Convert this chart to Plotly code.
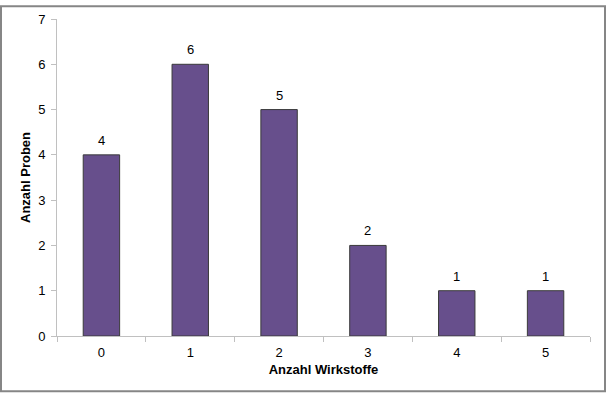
import plotly.graph_objects as go

categories = ["0", "1", "2", "3", "4", "5"]
values = [4, 6, 5, 2, 1, 1]
y_ticks = [0, 1, 2, 3, 4, 5, 6, 7]

W, H = 606, 393
L, R, T, B = 57, 16, 14, 57
pw, ph = W - L - R, H - T - B
FONT = "Liberation Sans, Arial"

fig = go.Figure(go.Bar(
    x=categories, y=values,
    marker=dict(color="#674F8C", line=dict(color="#3A3A3A", width=1)),
    width=0.41, cliponaxis=False, hoverinfo="skip",
))

annotations = [
    dict(x=c, y=v, xref="x", yref="y", text=str(v), showarrow=False,
         yanchor="bottom", yshift=5, font=dict(family=FONT, size=13, color="black"))
    for c, v in zip(categories, values)
]

fig.update_layout(
    width=W, height=H,
    margin=dict(l=L, r=R, t=T, b=B),
    paper_bgcolor="white", plot_bgcolor="white",
    showlegend=False,
    font=dict(family=FONT, size=13, color="black"),
    annotations=annotations,
    xaxis=dict(
        type="category", tickson="boundaries", ticks="outside", ticklen=5,
        tickcolor="#C0C0C0", showline=True, linecolor="#C0C0C0", linewidth=1,
        showgrid=False, zeroline=False, ticklabelstandoff=4,
        title=dict(text="<b>Anzahl Wirkstoffe</b>", font=dict(size=13), standoff=6),
    ),
    yaxis=dict(
        range=[0, 7], tickvals=y_ticks, ticks="outside", ticklen=5,
        tickcolor="#C0C0C0", showline=True, linecolor="#C0C0C0", linewidth=1,
        showgrid=False, zeroline=False, ticklabelstandoff=3,
        title=dict(text="<b>Anzahl Proben</b>", font=dict(size=13), standoff=4),
    ),
    shapes=[dict(
        type="rect", xref="paper", yref="paper",
        x0=(1 - L) / pw, x1=(W - 1 - L) / pw,
        y0=(T + ph - (H - 1)) / ph, y1=(T + ph - 1) / ph,
        line=dict(color="#868686", width=2), fillcolor="rgba(0,0,0,0)",
        layer="below",
    )],
)

fig.write_html("out.html", config={"displayModeBar": False},
               post_script="document.body.style.margin='0';document.body.style.padding='0';")
